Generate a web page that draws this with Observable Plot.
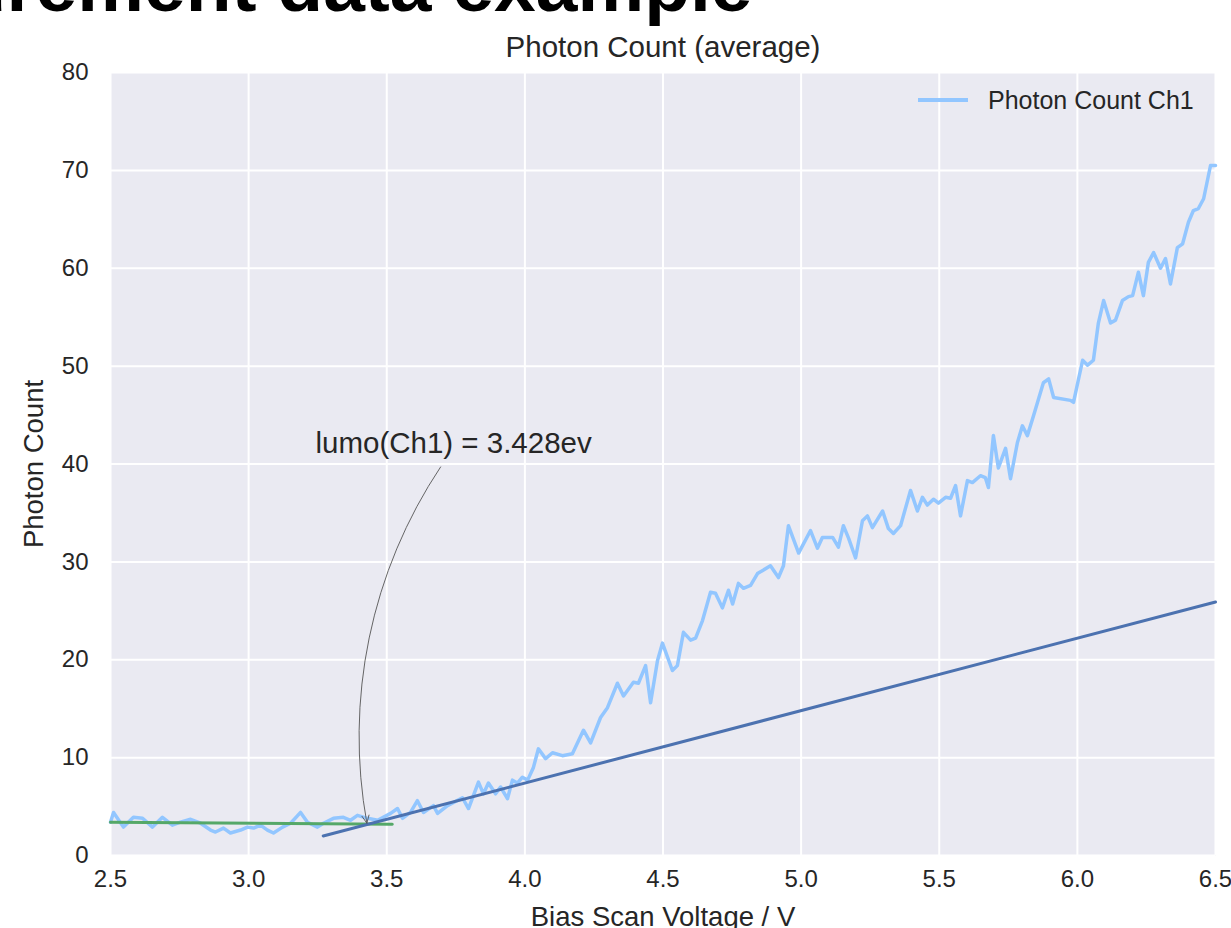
<!DOCTYPE html>
<html><head><meta charset="utf-8">
<script src="https://cdn.jsdelivr.net/npm/d3@7"></script>
<script src="https://cdn.jsdelivr.net/npm/@observablehq/plot@0.6"></script>
<style>
body{margin:0;background:#fff;overflow:hidden;width:1231px;height:928px;position:relative;font-family:"Liberation Sans",Arial,sans-serif;}
#chart{position:absolute;left:0;top:0;}
#bigtitle{position:absolute;left:-227px;top:-52px;font-size:75px;font-weight:bold;line-height:75px;white-space:nowrap;color:#000;}
#legend{position:absolute;left:918px;top:86px;height:28px;display:flex;align-items:center;font-size:25px;color:#262626;white-space:nowrap;}
#legend .sw{display:inline-block;width:50px;height:3.5px;background:#92C6FF;margin-right:20px;}
</style></head><body>
<div id="chart"></div>
<div id="bigtitle">Measurement data example</div>
<div id="legend"><span class="sw"></span><span>Photon Count Ch1</span></div>
<script>
const voltage = [2.500, 2.511, 2.547, 2.583, 2.616, 2.652, 2.688, 2.724, 2.753, 2.790,
  2.826, 2.862, 2.880, 2.909, 2.934, 2.971, 2.996, 3.018, 3.043, 3.068,
  3.090, 3.123, 3.152, 3.188, 3.213, 3.249, 3.271, 3.307, 3.343, 3.369,
  3.394, 3.430, 3.467, 3.514, 3.539, 3.557, 3.586, 3.611, 3.633, 3.669,
  3.684, 3.720, 3.774, 3.796, 3.832, 3.850, 3.868, 3.894, 3.912, 3.937,
  3.955, 3.973, 3.991, 4.010, 4.031, 4.049, 4.075, 4.100, 4.136, 4.172,
  4.212, 4.238, 4.274, 4.299, 4.335, 4.357, 4.393, 4.411, 4.437, 4.455,
  4.480, 4.498, 4.534, 4.552, 4.574, 4.600, 4.618, 4.643, 4.672, 4.690,
  4.715, 4.737, 4.752, 4.773, 4.791, 4.817, 4.842, 4.889, 4.918, 4.936,
  4.954, 4.991, 5.034, 5.059, 5.077, 5.114, 5.135, 5.153, 5.172, 5.197,
  5.222, 5.240, 5.258, 5.295, 5.316, 5.334, 5.360, 5.396, 5.421, 5.439,
  5.457, 5.479, 5.497, 5.523, 5.541, 5.559, 5.577, 5.602, 5.620, 5.649,
  5.667, 5.678, 5.696, 5.714, 5.740, 5.758, 5.783, 5.801, 5.819, 5.841,
  5.877, 5.896, 5.914, 5.975, 5.986, 6.019, 6.037, 6.058, 6.076, 6.095,
  6.120, 6.138, 6.163, 6.185, 6.200, 6.221, 6.239, 6.257, 6.276, 6.301,
  6.319, 6.337, 6.362, 6.381, 6.402, 6.420, 6.438, 6.457, 6.482, 6.500];
const photonCount = [3.4, 4.4, 2.9, 3.9, 3.8, 2.9, 3.9, 3.1, 3.4, 3.7,
  3.3, 2.6, 2.4, 2.8, 2.3, 2.6, 2.9, 2.8, 3.1, 2.6,
  2.3, 2.9, 3.3, 4.4, 3.4, 2.9, 3.3, 3.8, 3.9, 3.6,
  4.1, 3.8, 3.6, 4.3, 4.8, 3.8, 4.4, 5.6, 4.4, 5.1,
  4.3, 5.1, 5.9, 4.8, 7.5, 6.3, 7.4, 6.3, 7.0, 5.8,
  7.7, 7.4, 8.0, 7.7, 9.0, 10.9, 9.9, 10.5, 10.2, 10.4,
  12.8, 11.5, 14.1, 15.1, 17.6, 16.3, 17.7, 17.6, 19.4, 15.6,
  19.9, 21.7, 18.9, 19.4, 22.8, 22.0, 22.2, 24.0, 26.9, 26.8,
  25.3, 27.1, 25.7, 27.8, 27.3, 27.6, 28.8, 29.6, 28.4, 29.6,
  33.7, 30.9, 33.2, 31.4, 32.5, 32.5, 31.5, 33.7, 32.4, 30.4,
  34.2, 34.7, 33.5, 35.2, 33.4, 32.9, 33.7, 37.3, 35.2, 36.6,
  35.8, 36.4, 36.0, 36.6, 36.5, 37.8, 34.7, 38.3, 38.1, 38.8,
  38.6, 37.6, 42.9, 39.6, 41.6, 38.5, 42.2, 43.9, 42.9, 44.9,
  48.3, 48.7, 46.8, 46.5, 46.3, 50.6, 50.1, 50.6, 54.4, 56.7,
  54.4, 54.7, 56.7, 57.1, 57.2, 59.6, 57.2, 60.6, 61.6, 60.0,
  61.0, 58.4, 62.1, 62.5, 64.7, 65.9, 66.1, 67.1, 70.5, 70.5];

// baseline fit (green) and rising-edge fit (dark blue)
const baseFitX = [2.5, 3.52];
const baseFitY = [3.4, 3.2];
const edgeFitX = [3.27, 6.5];
const edgeFitY = [2.0, 25.9];

// annotation
const lumoValue = 3.428;
const lumoCount = 3.3;
const lumoLabel = "lumo(Ch1) = 3.428ev";
const lumoTextX = 3.742, lumoTextY = 42.1;
const arrowStartX = 3.695, arrowStartY = 39.7;

const xTicks = [2.5, 3.0, 3.5, 4.0, 4.5, 5.0, 5.5, 6.0, 6.5];
const yTicks = [0, 10, 20, 30, 40, 50, 60, 70, 80];
const chartTitle = "Photon Count (average)";
const xLabel = "Bias Scan Voltage / V";
const yLabel = "Photon Count";

const data = voltage.map((v, i) => ({v, c: photonCount[i]}));
const baseFit = baseFitX.map((v, i) => ({v, c: baseFitY[i]}));
const edgeFit = edgeFitX.map((v, i) => ({v, c: edgeFitY[i]}));
const ann = [{x1: arrowStartX, y1: arrowStartY, x2: lumoValue, y2: lumoCount, tx: lumoTextX, ty: lumoTextY, label: lumoLabel}];

const ink = "#262626";
const chart = Plot.plot({
  width: 1231, height: 928,
  marginLeft: 110, marginRight: 16, marginTop: 72, marginBottom: 73,
  style: {fontFamily: '"Liberation Sans", Arial, sans-serif', fontSize: "24px", color: ink, background: "transparent"},
  x: {domain: [2.5, 6.5], ticks: xTicks, tickFormat: d3.format(".1f"), tickSize: 0, tickPadding: 14, label: null},
  y: {domain: [0, 80], ticks: yTicks, tickSize: 0, tickPadding: 22, label: null},
  marks: [
    Plot.frame({fill: "#EAEAF2", stroke: null}),
    Plot.ruleX(xTicks, {stroke: "white", strokeWidth: 2}),
    Plot.ruleY(yTicks, {stroke: "white", strokeWidth: 2}),
    Plot.line(data, {x: "v", y: "c", stroke: "#92C6FF", strokeWidth: 3.5}),
    Plot.line(baseFit, {x: "v", y: "c", stroke: "#55A868", strokeWidth: 3}),
    Plot.line(edgeFit, {x: "v", y: "c", stroke: "#4C72B0", strokeWidth: 3}),
    Plot.arrow(ann, {x1: "x1", y1: "y1", x2: "x2", y2: "y2", bend: -22, stroke: "#555", strokeWidth: 0.9, headLength: 14, headAngle: 50}),
    Plot.text(ann, {x: "tx", y: "ty", text: "label", fontSize: 29.5, fill: ink}),
    Plot.text([chartTitle], {frameAnchor: "top", dy: -16, lineAnchor: "bottom", fontSize: 29.5, fill: ink}),
    Plot.text([yLabel], {frameAnchor: "left", dx: -76, rotate: -90, textAnchor: "middle", fontSize: 27.5, fill: ink}),
    Plot.text([xLabel], {frameAnchor: "bottom", dy: 70, lineAnchor: "bottom", textAnchor: "middle", fontSize: 27.5, fill: ink})
  ]
});
document.getElementById("chart").appendChild(chart);
</script>
</body></html>
